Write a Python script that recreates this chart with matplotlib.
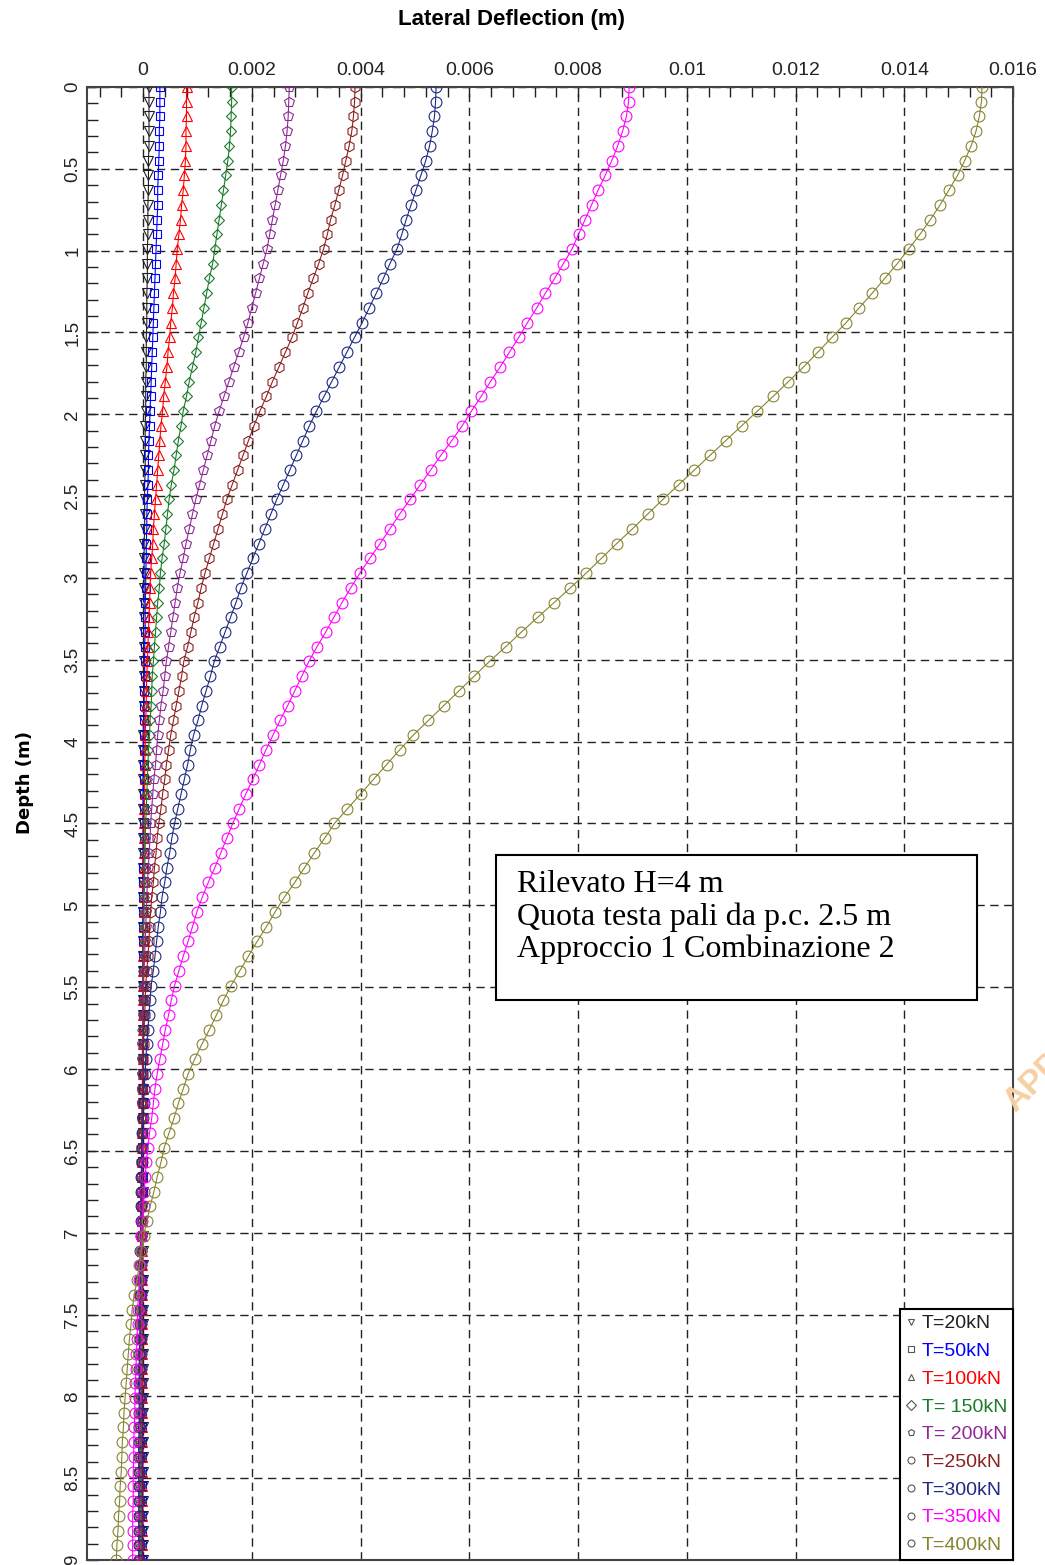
#!/usr/bin/env python3
"""Lateral deflection vs depth of a pile for several head loads T."""

import matplotlib

matplotlib.use("Agg")

import matplotlib.pyplot as plt
import numpy as np
from matplotlib.lines import Line2D
from matplotlib.patches import Rectangle
from matplotlib.ticker import FuncFormatter, MultipleLocator

# depth of the computation nodes (m)
DEPTH_M = [
    0.00, 0.09, 0.18, 0.27, 0.36, 0.45, 0.54, 0.63, 0.72, 0.81,
    0.90, 0.99, 1.08, 1.17, 1.26, 1.35, 1.44, 1.53, 1.62, 1.71,
    1.80, 1.89, 1.98, 2.07, 2.16, 2.25, 2.34, 2.43, 2.52, 2.61,
    2.70, 2.79, 2.88, 2.97, 3.06, 3.15, 3.24, 3.33, 3.42, 3.51,
    3.60, 3.69, 3.78, 3.87, 3.96, 4.05, 4.14, 4.23, 4.32, 4.41,
    4.50, 4.59, 4.68, 4.77, 4.86, 4.95, 5.04, 5.13, 5.22, 5.31,
    5.40, 5.49, 5.58, 5.67, 5.76, 5.85, 5.94, 6.03, 6.12, 6.21,
    6.30, 6.39, 6.48, 6.57, 6.66, 6.75, 6.84, 6.93, 7.02, 7.11,
    7.20, 7.29, 7.38, 7.47, 7.56, 7.65, 7.74, 7.83, 7.92, 8.01,
    8.10, 8.19, 8.28, 8.37, 8.46, 8.55, 8.64, 8.73, 8.82, 8.91,
    9.00,
]

# lateral deflections, in units of 1e-5 m
DEFL_T20 = [
    11, 11, 11, 11, 11, 10, 10, 10, 9, 9,
    9, 8, 8, 8, 7, 7, 7, 6, 6, 6,
    5, 5, 5, 4, 4, 4, 4, 3, 3, 3,
    3, 2, 2, 2, 2, 2, 1, 1, 1, 1,
    1, 1, 1, 1, 0, 0, 0, 0, 0, 0,
    0, 0, 0, 0, 0, 0, 0, 0, 0, 0,
    0, 0, 0, 0, 0, 0, 0, 0, 0, 0,
    0, 0, 0, 0, 0, 0, 0, 0, 0, 0,
    0, 0, 0, 0, 0, 0, 0, 0, 0, 0,
    0, 0, 0, 0, 0, 0, 0, 0, 0, 0,
    0,
]
DEFL_T50 = [
    31, 31, 31, 30, 30, 29, 28, 27, 27, 26,
    25, 24, 23, 22, 21, 20, 19, 18, 17, 16,
    15, 14, 13, 12, 11, 10, 10, 9, 8, 7,
    7, 6, 6, 5, 5, 4, 4, 4, 3, 3,
    3, 2, 2, 2, 2, 1, 1, 1, 1, 1,
    1, 1, 1, 0, 0, 0, 0, 0, 0, 0,
    0, 0, 0, 0, 0, 0, 0, 0, 0, 0,
    0, 0, 0, 0, 0, 0, -1, -1, -1, -1,
    -1, -1, -1, -1, -1, -1, -1, -1, -1, -1,
    -1, -1, -1, -1, -1, -1, -1, -1, -1, -1,
    -1,
]
DEFL_T100 = [
    80, 80, 80, 79, 79, 78, 76, 74, 71, 69,
    66, 63, 61, 59, 56, 54, 51, 49, 46, 44,
    41, 38, 36, 33, 31, 29, 27, 25, 23, 21,
    19, 18, 16, 14, 13, 12, 11, 10, 9, 8,
    7, 6, 6, 5, 4, 4, 3, 3, 3, 2,
    2, 2, 2, 1, 1, 1, 1, 1, 1, 0,
    0, 0, 0, 0, 0, 0, 0, 0, 0, 0,
    0, -1, -1, -1, -1, -1, -1, -1, -1, -1,
    -1, -1, -1, -1, -1, -1, -1, -1, -1, -2,
    -2, -2, -2, -2, -2, -2, -2, -2, -2, -2,
    -2,
]
DEFL_T150 = [
    163, 163, 162, 161, 159, 156, 152, 148, 144, 140,
    136, 132, 128, 122, 117, 112, 107, 102, 97, 91,
    85, 80, 74, 70, 65, 61, 57, 52, 48, 45,
    42, 39, 35, 32, 30, 27, 25, 23, 21, 19,
    17, 16, 15, 13, 12, 10, 9, 8, 7, 6,
    5, 4, 4, 3, 3, 2, 2, 1, 1, 1,
    0, 0, 0, 0, -1, -1, -1, -1, -1, -1,
    -1, -1, -2, -2, -2, -2, -2, -2, -2, -2,
    -2, -2, -2, -2, -2, -2, -2, -2, -3, -3,
    -3, -3, -3, -3, -3, -3, -3, -3, -3, -3,
    -3,
]
DEFL_T200 = [
    269, 268, 267, 265, 262, 258, 253, 248, 243, 238,
    233, 228, 221, 214, 207, 200, 193, 185, 176, 167,
    158, 149, 140, 132, 125, 118, 111, 104, 97, 91,
    85, 79, 74, 68, 63, 59, 55, 51, 47, 43,
    40, 37, 33, 30, 27, 25, 23, 20, 18, 16,
    14, 13, 11, 10, 8, 7, 6, 5, 4, 3,
    2, 1, 1, 0, 0, -1, -1, -1, -1, -2,
    -2, -2, -2, -2, -3, -3, -3, -3, -3, -3,
    -3, -4, -4, -4, -4, -4, -4, -4, -4, -4,
    -4, -5, -5, -5, -5, -5, -5, -5, -5, -5,
    -5,
]
DEFL_T250 = [
    390, 389, 387, 384, 379, 373, 367, 360, 353, 345,
    339, 332, 323, 313, 303, 294, 284, 274, 262, 250,
    238, 227, 215, 204, 194, 184, 174, 164, 154, 146,
    138, 130, 122, 114, 107, 101, 94, 88, 82, 75,
    71, 66, 61, 56, 51, 47, 43, 40, 36, 33,
    29, 26, 24, 21, 19, 16, 14, 12, 11, 9,
    7, 5, 4, 3, 2, 1, 0, 0, -1, -1,
    -2, -2, -3, -3, -3, -4, -4, -4, -4, -4,
    -5, -5, -5, -5, -5, -5, -6, -6, -6, -6,
    -6, -6, -6, -6, -7, -7, -7, -7, -7, -7,
    -7,
]
DEFL_T300 = [
    539, 538, 536, 532, 527, 520, 511, 502, 493, 484,
    476, 467, 454, 442, 429, 416, 403, 389, 375, 361,
    347, 333, 319, 306, 294, 282, 270, 258, 246, 235,
    224, 213, 202, 191, 180, 171, 161, 151, 141, 131,
    124, 116, 108, 101, 93, 87, 82, 76, 70, 64,
    58, 53, 49, 44, 40, 35, 32, 28, 25, 22,
    19, 15, 13, 11, 9, 7, 5, 4, 2, 1,
    0, -1, -2, -2, -3, -3, -4, -4, -4, -5,
    -5, -5, -6, -6, -6, -6, -7, -7, -7, -7,
    -7, -7, -8, -8, -8, -8, -8, -8, -8, -8,
    -8,
]
DEFL_T350 = [
    894, 893, 889, 882, 873, 862, 850, 837, 825, 813,
    801, 789, 773, 757, 740, 724, 707, 691, 674, 657,
    639, 622, 604, 587, 568, 548, 529, 510, 491, 472,
    454, 436, 417, 399, 382, 366, 351, 336, 320, 305,
    292, 279, 266, 252, 239, 226, 214, 202, 189, 177,
    165, 154, 143, 132, 120, 109, 99, 91, 83, 74,
    66, 58, 52, 47, 41, 36, 31, 26, 22, 19,
    16, 12, 9, 6, 4, 2, 1, -1, -3, -4,
    -6, -7, -8, -10, -10, -11, -12, -13, -14, -15,
    -15, -16, -17, -17, -18, -18, -18, -19, -19, -19,
    -19,
]
DEFL_T400 = [
    1543, 1542, 1538, 1532, 1523, 1511, 1498, 1482, 1466, 1448,
    1429, 1408, 1387, 1364, 1341, 1317, 1293, 1267, 1241, 1215,
    1187, 1159, 1130, 1101, 1072, 1043, 1014, 985, 956, 928,
    900, 871, 843, 815, 786, 756, 726, 696, 667, 637,
    609, 581, 553, 525, 497, 472, 448, 424, 400, 376,
    352, 334, 315, 297, 279, 260, 243, 227, 210, 194,
    178, 162, 148, 135, 122, 108, 95, 83, 74, 65,
    57, 48, 39, 33, 26, 20, 13, 7, 1, -3,
    -7, -11, -16, -20, -22, -25, -27, -29, -31, -33,
    -35, -36, -38, -39, -40, -42, -43, -45, -46, -48,
    -49,
]

LABELS = ["T=20kN", "T=50kN", "T=100kN", "T= 150kN", "T= 200kN",
          "T=250kN", "T=300kN", "T=350kN", "T=400kN"]
DEFLECTIONS = [DEFL_T20, DEFL_T50, DEFL_T100, DEFL_T150, DEFL_T200,
               DEFL_T250, DEFL_T300, DEFL_T350, DEFL_T400]
COLORS = ["#202020", "#0000ff", "#ff0000", "#1b7b2b", "#8e2a96",
          "#8b2020", "#1f2a80", "#ff00ff", "#858530"]
MARKERS = ["v", "s", "^", "D", "p", "h", "o", "o", "o"]
MARKER_SIZES = [7, 6, 7, 5.5, 7.5, 7.5, 7.8, 7.8, 7.8]

NOTE_LINES = ["Rilevato H=4 m", "Quota testa pali da p.c. 2.5 m", "Approccio 1 Combinazione 2"]

W_PX, H_PX = 1045, 1565


def setup_axes(fig):
    # axes box measured in pixels on the reference
    left, right, top, bottom = 87, 1013, 87, 1560
    ax = fig.add_axes([left / W_PX, 1 - bottom / H_PX,
                       (right - left) / W_PX, (bottom - top) / H_PX])
    ax.set_xlim(-0.00103, 0.016)
    ax.set_ylim(9, 0)

    ax.xaxis.tick_top()
    ax.xaxis.set_major_locator(MultipleLocator(0.002))
    ax.xaxis.set_minor_locator(MultipleLocator(0.0004))
    ax.xaxis.set_major_formatter(FuncFormatter(lambda v, p: f"{v:g}"))
    ax.yaxis.set_major_locator(MultipleLocator(0.5))
    ax.yaxis.set_minor_locator(MultipleLocator(0.1))
    ax.yaxis.set_major_formatter(FuncFormatter(lambda v, p: f"{v:g}"))

    ax.tick_params(axis="x", which="both", direction="in", length=7, width=1,
                   top=True, bottom=False, labeltop=True, labelbottom=False,
                   labelsize=14, pad=6, colors="#222222")
    ax.tick_params(axis="y", which="both", direction="in", length=8, width=1,
                   left=True, right=False, labelsize=13.5, pad=4,
                   labelrotation=90, colors="#222222")
    for label in ax.get_yticklabels():
        label.set_verticalalignment("center")
        label.set_fontfamily("Liberation Sans")
    for label in ax.get_xticklabels():
        label.set_fontfamily("Liberation Sans")

    ax.grid(True, which="major", color="#222222", linestyle=(0, (6, 4)), linewidth=1.0)
    ax.set_axisbelow(True)
    for spine in ax.spines.values():
        spine.set_color("#444444")
        spine.set_linewidth(1.5)
    return ax


def main() -> None:
    fig = plt.figure(figsize=(W_PX / 100, H_PX / 100), dpi=100)
    ax = setup_axes(fig)

    depth = np.array(DEPTH_M)
    for values, color, marker, ms in zip(DEFLECTIONS, COLORS, MARKERS, MARKER_SIZES):
        ax.plot(np.array(values) * 1e-5, depth, color=color, linewidth=0.8,
                marker=marker, markersize=ms, markerfacecolor="none",
                markeredgecolor=color, markeredgewidth=0.8, zorder=3)

    handles = [
        Line2D([], [], linestyle="none", marker=m, markersize=5,
               markerfacecolor="none", markeredgecolor="#555555", markeredgewidth=0.8)
        for m in ["v", "s", "^", "D", "p", "o", "o", "o", "o"]
    ]
    legend = ax.legend(handles, LABELS, loc="lower right", borderaxespad=0,
                       prop={"family": "Liberation Sans", "size": 14},
                       labelspacing=0.52, handlelength=0.5, handletextpad=0.3,
                       borderpad=0.3, fancybox=False, framealpha=1, edgecolor="black")
    legend.get_frame().set_linewidth(1.5)
    legend.set_zorder(6)
    for text, color in zip(legend.get_texts(), COLORS):
        text.set_color(color)

    # note box with the load case description
    ax.add_patch(Rectangle((0.4417, 0.380), 0.519, 0.0984, transform=ax.transAxes,
                           facecolor="white", edgecolor="black", linewidth=1.5, zorder=5))
    ax.text(0.4644, 0.4365, "\n".join(NOTE_LINES), transform=ax.transAxes,
            ha="left", va="center", family="Liberation Serif", fontsize=23,
            linespacing=1.13, zorder=6)

    fig.text(511 / W_PX, 1 - 20 / H_PX, "Lateral Deflection (m)", ha="center", va="center",
             family="Liberation Sans", fontweight="bold", fontsize=16)
    fig.text(25 / W_PX, 1 - 783 / H_PX, "Depth (m)", ha="center", va="center",
             rotation=90, family="DejaVu Sans", fontweight="bold", fontsize=13)

    # faint watermark cut by the right edge
    fig.text(998 / W_PX, 1 - 1118 / H_PX, "APPROVED", rotation=45, ha="left", va="bottom",
             color="#f6cfa3", fontsize=24, fontweight="bold", family="Liberation Sans")

    fig.savefig("out.png", dpi=100, facecolor="white")
    plt.close(fig)


if __name__ == "__main__":
    main()
